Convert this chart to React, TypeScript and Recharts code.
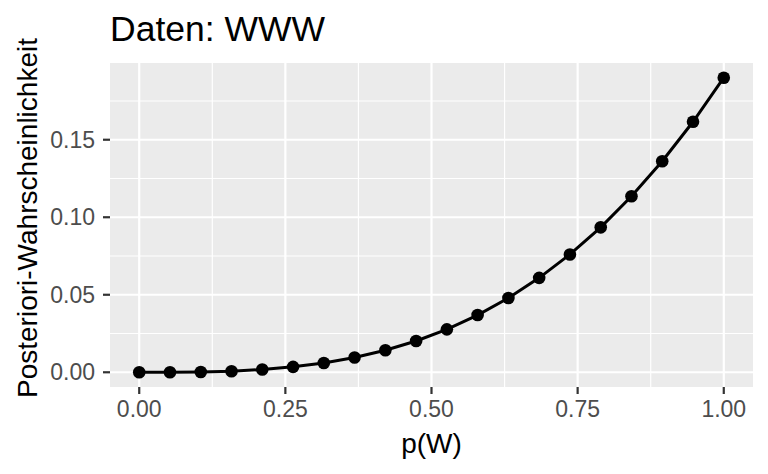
import React from 'react';
import {
  LineChart,
  Line,
  XAxis,
  YAxis,
  CartesianGrid,
  ReferenceLine,
} from 'recharts';

// grid of p values and the posterior
const pGrid = [
  0, 0.0526, 0.1053, 0.1579, 0.2105, 0.2632, 0.3158, 0.3684, 0.4211, 0.4737,
  0.5263, 0.5789, 0.6316, 0.6842, 0.7368, 0.7895, 0.8421, 0.8947, 0.9474, 1,
];
const posterior = [
  0, 0.00003, 0.0002, 0.0007, 0.0018, 0.0035, 0.006, 0.0095, 0.0142, 0.0202,
  0.0277, 0.0369, 0.0479, 0.0609, 0.076, 0.0935, 0.1135, 0.1361, 0.1616, 0.19,
];

const xTicks = [0, 0.25, 0.5, 0.75, 1];
const xMinor = [0.125, 0.375, 0.625, 0.875];
const yTicks = [0, 0.05, 0.1, 0.15];
const yMinor = [0.025, 0.075, 0.125, 0.175];

const title = 'Daten: WWW';
const xTitle = 'p(W)';
const yTitle = 'Posteriori-Wahrscheinlichkeit';

const data = pGrid.map((p, i) => ({ p, post: posterior[i] }));

const FONT = '"Liberation Sans", Arial, Helvetica, sans-serif';
const tickStyle = { fontSize: 23, fill: '#4D4D4D', fontFamily: FONT };

const XTitle = (props: any) => {
  const { viewBox } = props;
  return (
    <text
      x={viewBox.x + viewBox.width / 2}
      y={viewBox.y + 66}
      textAnchor="middle"
      fontSize={28}
      fontFamily={FONT}
      fill="#000"
    >
      {xTitle}
    </text>
  );
};

const YTitle = (props: any) => {
  const { viewBox } = props;
  const cy = viewBox.y + viewBox.height / 2 - 7;
  return (
    <text
      x={37}
      y={cy}
      transform={`rotate(-90, 37, ${cy})`}
      textAnchor="middle"
      fontSize={28}
      fontFamily={FONT}
      fill="#000"
    >
      {yTitle}
    </text>
  );
};

export default function App() {
  return (
    <div style={{ position: 'absolute', left: 0, top: 0, background: '#fff' }}>
      <LineChart
        width={768}
        height={474}
        data={data}
        margin={{ top: 63, right: 15, bottom: 0, left: 0 }}
      >
        <text x={110} y={41} fontSize={35.5} fontFamily={FONT} fill="#000">
          {title}
        </text>
        <CartesianGrid
          fill="#EBEBEB"
          stroke="none"
          horizontal={false}
          vertical={false}
        />
        {xMinor.map((v) => (
          <ReferenceLine key={'xm' + v} x={v} stroke="#fff" strokeWidth={1.2} />
        ))}
        {yMinor.map((v) => (
          <ReferenceLine key={'ym' + v} y={v} stroke="#fff" strokeWidth={1.2} />
        ))}
        {xTicks.map((v) => (
          <ReferenceLine key={'xM' + v} x={v} stroke="#fff" strokeWidth={2.2} />
        ))}
        {yTicks.map((v) => (
          <ReferenceLine key={'yM' + v} y={v} stroke="#fff" strokeWidth={2.2} />
        ))}
        <XAxis
          dataKey="p"
          type="number"
          domain={[-0.05, 1.05]}
          ticks={xTicks}
          allowDataOverflow
          tickFormatter={(v: number) => v.toFixed(2)}
          axisLine={false}
          tickSize={7}
          tickMargin={7}
          tickLine={{ stroke: '#333', strokeWidth: 2.2 }}
          tick={tickStyle}
          height={87}
          label={<XTitle />}
        />
        <YAxis
          type="number"
          domain={[-0.0095, 0.1995]}
          ticks={yTicks}
          allowDataOverflow
          tickFormatter={(v: number) => v.toFixed(2)}
          axisLine={false}
          tickSize={7}
          tickMargin={8}
          tickLine={{ stroke: '#333', strokeWidth: 2.2 }}
          tick={tickStyle}
          width={110}
          label={<YTitle />}
        />
        <Line
          type="linear"
          dataKey="post"
          stroke="#000"
          strokeWidth={3}
          dot={{ r: 6.3, fill: '#000', stroke: 'none' }}
          activeDot={false}
          isAnimationActive={false}
        />
      </LineChart>
    </div>
  );
}
